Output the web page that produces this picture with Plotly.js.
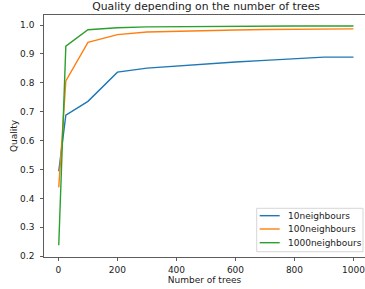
<!DOCTYPE html>
<html>
<head>
<meta charset="utf-8">
<script src="https://cdn.plot.ly/plotly-3.0.1.min.js"></script>
<style>html,body{margin:0;padding:0;background:#fff;}#chart{width:365px;height:289px;}</style>
</head>
<body>
<div id="chart"></div>
<script>
var trees = [1, 25, 100, 200, 300, 400, 500, 600, 700, 800, 900, 1000];
var q10 = [0.494, 0.688, 0.736, 0.837, 0.851, 0.858, 0.867, 0.872, 0.878, 0.884, 0.889, 0.889];
var q100 = [0.438, 0.807, 0.940, 0.967, 0.976, 0.979, 0.981, 0.983, 0.985, 0.986, 0.987, 0.987];
var q1000 = [0.238, 0.927, 0.984, 0.991, 0.994, 0.995, 0.996, 0.996, 0.997, 0.997, 0.997, 0.997];
var seriesNames = ['10neighbours', '100neighbours', '1000neighbours'];
var colors = ['#1f77b4', '#ff7f0e', '#2ca02c'];
var xTicks = [0, 200, 400, 600, 800, 1000];
var yTicks = [0.2, 0.3, 0.4, 0.5, 0.6, 0.7, 0.8, 0.9, 1.0];

var ys = [q10, q100, q1000];
var traces = ys.map(function (y, i) {
  return {x: trees, y: y, type: 'scatter', mode: 'lines', name: seriesNames[i],
    line: {color: colors[i], width: 1.4}, showlegend: false};
});

var font = {family: 'DejaVu Sans, sans-serif', size: 9, color: '#222'};

// manual legend (matplotlib-style, compact)
var legBox = {x0: 0.6626, x1: 0.9938, y0: 0.0219, y1: 0.2012};
var legRowY = [0.1707, 0.1157, 0.0591];
var shapes = [{type: 'rect', xref: 'paper', yref: 'paper', x0: legBox.x0, x1: legBox.x1, y0: legBox.y0, y1: legBox.y1,
  fillcolor: 'rgba(255,255,255,0.8)', line: {color: '#d6d6d6', width: 1}}];
var annotations = [];
seriesNames.forEach(function (n, i) {
  shapes.push({type: 'line', xref: 'paper', yref: 'paper', x0: 0.6719, x1: 0.7342, y0: legRowY[i], y1: legRowY[i],
    line: {color: colors[i], width: 1.4}});
  annotations.push({xref: 'paper', yref: 'paper', x: 0.7539, y: legRowY[i], xanchor: 'left', yanchor: 'middle',
    text: n, showarrow: false, font: font});
});
annotations.push({xref: 'paper', yref: 'paper', x: 0, y: 0.5, xshift: -30, xanchor: 'center', yanchor: 'middle',
  textangle: -90, text: 'Quality', showarrow: false, font: font});

var layout = {
  width: 365, height: 289,
  margin: {l: 44, r: 0, t: 15, b: 32, pad: 0},
  paper_bgcolor: '#fff', plot_bgcolor: '#fff',
  font: font,
  showlegend: false,
  title: {text: 'Quality depending on the number of trees', font: {family: 'DejaVu Sans, sans-serif', size: 10.8, color: '#222'},
    xref: 'paper', x: 0.505, xanchor: 'center', yref: 'container', y: 1 - 6.5/289, yanchor: 'middle'},
  xaxis: {range: [-49, 1039], tickvals: xTicks, ticktext: xTicks.map(String), showgrid: false, zeroline: false,
    showline: true, linecolor: '#333', linewidth: 0.8, mirror: true,
    ticks: 'outside', ticklen: 3, tickwidth: 0.8, tickcolor: '#333', ticklabelstandoff: 1,
    ticklabeloverflow: 'allow',
    title: {text: 'Number of trees', font: font, standoff: 3}, automargin: false},
  yaxis: {range: [0.197, 1.035], tickvals: yTicks, ticktext: yTicks.map(function (v) { return v.toFixed(1); }),
    showgrid: false, zeroline: false,
    showline: true, linecolor: '#333', linewidth: 0.8, mirror: true,
    ticks: 'outside', ticklen: 3, tickwidth: 0.8, tickcolor: '#333', ticklabelstandoff: 4,
    automargin: false},
  shapes: shapes,
  annotations: annotations
};
Plotly.newPlot('chart', traces, layout, {staticPlot: true, displayModeBar: false});
</script>
</body>
</html>
